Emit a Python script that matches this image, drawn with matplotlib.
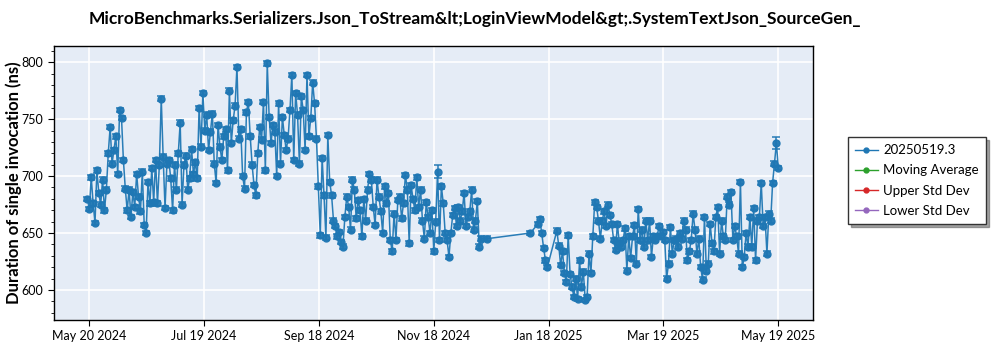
import numpy as np
import pandas as pd
import matplotlib
matplotlib.use("Agg")
import matplotlib.pyplot as plt
from matplotlib.lines import Line2D
from matplotlib.ticker import MultipleLocator

# ---------------- data ----------------
title_text = "MicroBenchmarks.Serializers.Json_ToStream&lt;LoginViewModel&gt;.SystemTextJson_SourceGen_"
y_label = "Duration of single invocation (ns)"
legend_labels = ["20250519.3", "Moving Average", "Upper Std Dev", "Lower Std Dev"]
legend_colors = ["#1f77b4", "#2ca02c", "#d62728", "#9467bd"]

tick_labels = ["May 20 2024", "Jul 19 2024", "Sep 18 2024", "Nov 18 2024",
               "Jan 18 2025", "Mar 19 2025", "May 19 2025"]
tick_first, tick_last = "2024-05-20", "2025-05-19"

may_2024 = [680, 671, 699, 676, 659, 705, 685, 675, 697, 670, 688, 720, 743]
jun_2024 = [711, 723, 735, 702, 758, 751, 714, 689, 670, 688, 664, 686, 673, 702, 682,
            669, 704, 657, 650, 695, 676, 707, 677, 714, 676, 710, 768, 717, 672, 711]
jul_2024 = [714, 698, 670, 710, 688, 720, 747, 675, 710, 718, 688, 698, 724, 702, 712,
            698, 760, 726, 773, 740, 754, 723, 739, 755, 711, 694, 745, 726, 714, 735, 741]
aug_2024 = [705, 775, 729, 749, 762, 796, 733, 741, 700, 689, 756, 765, 735, 710, 692,
            683, 720, 743, 732, 765, 705, 799, 752, 729, 745, 739, 700, 764, 711, 752, 736]
sep_2024 = [723, 733, 758, 789, 714, 773, 754, 711, 770, 758, 723, 789, 735, 751, 782,
            764, 733, 691, 648, 716, 683, 646, 736, 695, 683, 661, 656, 647, 651, 642]
oct_2024 = [638, 664, 682, 673, 653, 697, 688, 663, 679, 670, 647, 680, 661, 688, 702,
            697, 673, 657, 697, 682, 669, 650, 691, 676, 685, 644, 634, 667, 644, 679, 682]
nov_2024 = [663, 676, 701, 688, 641, 692, 680, 670, 699, 673, 688, 661, 645, 677, 664,
            650, 670, 634, 660, 704, 644, 691, 676, 650, 644, 629, 650, 666, 672, 656]
dec_2024 = [673, 661, 669, 685, 656, 664, 669, 688, 653, 661, 678, 638, 645]
dec_2024_late = [645]
jan_2025_a = [650]
jan_2025_b = [658, 662, 650, 637, 626, 620]
jan_2025_c = [652, 639, 622, 634, 615, 607, 648, 614, 603, 594]
feb_2025 = [610, 592, 626, 603, 616, 591, 594, 632, 615, 647, 677, 673, 661, 645, 661,
            669, 656, 675, 666, 658, 644, 635, 658, 641, 638, 644, 654, 617]
mar_2025 = [647, 628, 647, 657, 623, 671, 644, 653, 638, 661, 644, 661, 629, 647, 644,
            647, 656, 647, 651, 644, 610, 623, 655, 632, 644, 645, 638, 650, 645, 661, 653]
apr_2025 = [626, 634, 644, 667, 653, 632, 645, 620, 609, 664, 617, 623, 658, 641, 634,
            664, 673, 632, 661, 647, 644, 682, 675, 686, 644, 656, 647, 632, 695, 620]
may_2025 = [629, 650, 638, 664, 638, 672, 626, 661, 664, 694, 656, 664, 632, 667, 661,
            694, 711, 729, 707]

segments = [
    ("2024-05-19", may_2024), ("2024-06-01", jun_2024), ("2024-07-01", jul_2024),
    ("2024-08-01", aug_2024), ("2024-09-01", sep_2024), ("2024-10-01", oct_2024),
    ("2024-11-01", nov_2024), ("2024-12-01", dec_2024), ("2024-12-16", dec_2024_late),
    ("2025-01-08", jan_2025_a), ("2025-01-12", jan_2025_b), ("2025-01-22", jan_2025_c),
    ("2025-02-01", feb_2025), ("2025-03-01", mar_2025), ("2025-04-01", apr_2025),
    ("2025-05-01", may_2025),
]

typical_err = 2.0
large_err = {"2024-11-20": 6.0, "2025-05-18": 5.0}

# ---------------- build ----------------
dates, values = [], []
for start, vals in segments:
    dates.extend(pd.date_range(start, periods=len(vals), freq="D"))
    values.extend(vals)
dates = pd.DatetimeIndex(dates)
values = np.array(values, dtype=float)
errs = np.full(len(values), typical_err)
for d, e in large_err.items():
    errs[dates == pd.Timestamp(d)] = e

plt.rcParams['font.family'] = ['Lato', 'DejaVu Sans']

fig = plt.figure(figsize=(10, 3.5), dpi=100)
ax = fig.add_axes([0.054, 1 - 320 / 350, 0.7593, 274 / 350])
ax.set_facecolor("#E5ECF6")

blue = legend_colors[0]
ax.errorbar(dates, values, yerr=errs, fmt='-o', color=blue, ms=5.0, lw=1.1,
            elinewidth=1.1, capsize=2.8, capthick=1.1, alpha=0.95, zorder=3)

ax.set_ylim(573.6, 814.3)
ax.set_xlim(pd.Timestamp("2024-05-01 08:00"), pd.Timestamp("2025-06-06 12:00"))

ticks = pd.date_range(tick_first, tick_last, periods=len(tick_labels))
ax.set_xticks(ticks)
ax.set_xticklabels(tick_labels)
ax.yaxis.set_major_locator(MultipleLocator(50))
ax.yaxis.set_minor_locator(MultipleLocator(10))

ax.grid(True, which='major', color='white', linewidth=1.2, zorder=0)
ax.set_axisbelow(True)
for s in ax.spines.values():
    s.set_color('black')
    s.set_linewidth(1.0)
ax.tick_params(axis='both', which='major', labelsize=9, length=4, width=0.8, color='black')
ax.tick_params(axis='y', which='minor', length=2.5, width=0.6, color='black')

fig.text(0.475, 1 - 19 / 350, title_text, ha='center', va='center',
         fontsize=12.5, fontweight='bold')
fig.text(0.014, 1 - 183 / 350, y_label, ha='center', va='center', rotation=90,
         fontsize=12, fontweight='bold')

handles = [Line2D([], [], color=c, marker='o', ms=3.5, lw=1.0) for c in legend_colors]
leg = fig.legend(handles, legend_labels, loc='upper left',
                 bbox_to_anchor=(0.848, 1 - 137 / 350), borderaxespad=0.0,
                 fontsize=9.5, frameon=True, fancybox=False, shadow=True,
                 handlelength=1.7, handletextpad=0.4,
                 borderpad=0.55, labelspacing=0.62)
leg.get_frame().set_edgecolor('#333333')
leg.get_frame().set_linewidth(1.0)

fig.savefig("out.png", dpi=100)
